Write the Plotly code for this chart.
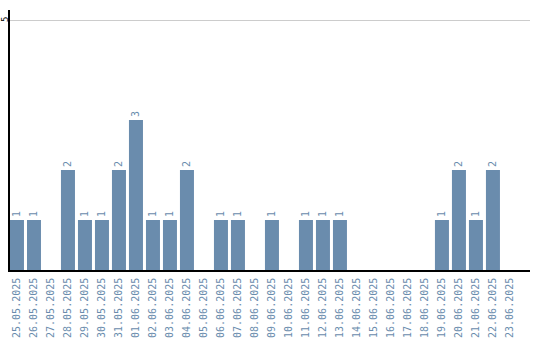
import plotly.graph_objects as go

dates = ["25.05.2025", "26.05.2025", "27.05.2025", "28.05.2025", "29.05.2025",
         "30.05.2025", "31.05.2025", "01.06.2025", "02.06.2025", "03.06.2025",
         "04.06.2025", "05.06.2025", "06.06.2025", "07.06.2025", "08.06.2025",
         "09.06.2025", "10.06.2025", "11.06.2025", "12.06.2025", "13.06.2025",
         "14.06.2025", "15.06.2025", "16.06.2025", "17.06.2025", "18.06.2025",
         "19.06.2025", "20.06.2025", "21.06.2025", "22.06.2025", "23.06.2025"]
counts = [1, 1, 0, 2, 1, 1, 2, 3, 1, 1, 2, 0, 1, 1, 0, 1, 0, 1, 1, 1,
          0, 0, 0, 0, 0, 1, 2, 1, 2, 0]
y_tick = 5

labels = [str(v) if v > 0 else "" for v in counts]
color = "#6a8cad"
mono = "DejaVu Sans Mono"

fig = go.Figure(go.Bar(
    x=dates, y=counts, text=labels, textposition="outside", textangle=-90,
    textfont=dict(family=mono, size=10, color=color),
    marker=dict(color=color, line=dict(width=0)), cliponaxis=False,
))

fig.add_annotation(
    x=0, xref="paper", y=y_tick, yref="y", text=str(y_tick), showarrow=False,
    textangle=-90, xanchor="center", yanchor="middle", xshift=-5,
    font=dict(family=mono, size=9, color="black"),
)

fig.update_layout(
    width=540, height=340, margin=dict(l=10, r=10, t=10, b=70),
    paper_bgcolor="white", plot_bgcolor="white", bargap=0.176, showlegend=False,
    xaxis=dict(type="category", range=[-0.41, 30.18], tickangle=-90,
               tickfont=dict(family=mono, size=10, color=color),
               showline=True, linecolor="black", linewidth=1.5, showgrid=False,
               ticks="", ticklabelstandoff=2, automargin=False),
    yaxis=dict(range=[0, 5.2], tickvals=[y_tick], showticklabels=False,
               showline=True, linecolor="black", linewidth=1.5,
               showgrid=True, gridcolor="#cccccc", zeroline=False, ticks="",
               automargin=False),
)

fig.write_html("out.html")
